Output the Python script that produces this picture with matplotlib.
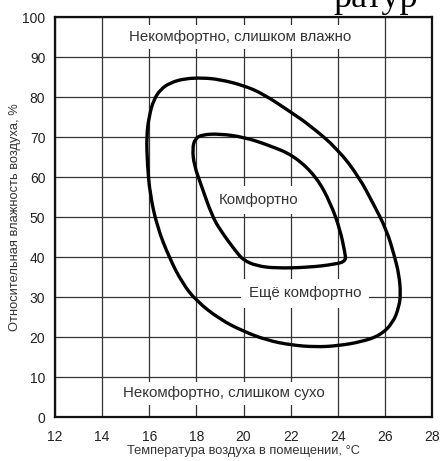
import matplotlib
matplotlib.use("Agg")
import matplotlib.pyplot as plt
from matplotlib.path import Path
from matplotlib.patches import PathPatch

plt.rcParams['font.family'] = ['Liberation Sans', 'DejaVu Sans']

# comfort zone outlines (temperature, humidity)
outer_t = [18.25, 18.98, 20.0, 20.83, 22.0, 22.8, 24.0, 24.9, 25.5, 26.07, 26.4, 26.6,
           26.67, 26.6, 26.35, 25.8, 25.0, 24.0, 23.05, 22.0, 21.0, 20.0, 19.0, 18.0,
           17.4, 16.85, 16.33, 16.03, 15.92, 15.88, 16.0, 16.18, 16.47, 16.9, 17.5, 18.25]
outer_h = [84.8, 84.4, 82.9, 80.8, 76.25, 73.0, 67.0, 60.0, 53.4, 46.8, 40.4, 35.6,
           30.8, 27.6, 23.6, 20.4, 18.8, 17.8, 17.5, 18.0, 19.2, 21.4, 24.4, 29.0,
           33.5, 39.8, 47.6, 55.8, 62.9, 70.4, 75.4, 79.2, 81.9, 83.6, 84.6, 84.8]

inner_t = [17.83, 17.94, 18.25, 18.98, 20.0, 21.1, 22.15, 23.1, 23.7, 24.1, 24.3, 24.35,
           23.9, 22.75, 21.35, 20.55, 20.0, 19.7, 19.0, 18.65, 18.2, 17.9, 17.83]
inner_h = [67.1, 69.6, 70.6, 70.8, 70.0, 67.9, 65.3, 60.0, 53.4, 46.8, 41.2, 39.0,
           38.2, 37.4, 37.2, 37.8, 39.2, 41.2, 46.8, 50.5, 58.0, 63.0, 67.1]

x_ticks = list(range(12, 29, 2))
y_ticks = list(range(0, 101, 10))

zone_labels = ['Некомфортно, слишком влажно', 'Комфортно', 'Ещё комфортно',
               'Некомфортно, слишком сухо']
label_t = [19.85, 20.65, 22.6, 19.15]
label_h = [95.0, 54.25, 31.0, 6.0]


def closed_curve(t, h):
    # read points used as control points of a closed quadratic bezier path
    pts = list(zip(t, h))[:-1]
    n = len(pts)
    mid = lambda a, b: ((a[0] + b[0]) / 2, (a[1] + b[1]) / 2)
    verts = [mid(pts[-1], pts[0])]
    codes = [Path.MOVETO]
    for i in range(n):
        verts += [pts[i], mid(pts[i], pts[(i + 1) % n])]
        codes += [Path.CURVE3, Path.CURVE3]
    return Path(verts, codes)


fig = plt.figure(figsize=(4.44, 4.61), dpi=100)
ax = fig.add_axes([0.124, 0.0954, 0.849, 0.8677])

ax.set_xlim(12, 28)
ax.set_ylim(0, 100)
ax.set_xticks(x_ticks)
ax.set_yticks(y_ticks)
ax.grid(True, color='#333333', linewidth=0.9)
ax.set_axisbelow(True)
ax.tick_params(length=0, labelsize=10, colors='#222222')
ax.tick_params(axis='x', pad=9)
ax.tick_params(axis='y', pad=7)
for s in ax.spines.values():
    s.set_linewidth(1.6)
    s.set_color('#111111')

for t, h in [(outer_t, outer_h), (inner_t, inner_h)]:
    ax.add_patch(PathPatch(closed_curve(t, h), facecolor='none', edgecolor='black',
                           linewidth=2.4, joinstyle='round', zorder=4))

pads = [0.35, 0.45, 0.5, 0.3]
for txt, t, h, p in zip(zone_labels, label_t, label_h, pads):
    ax.text(t, h, txt, ha='center', va='center', fontsize=10.8, color='#333333', zorder=3,
            bbox=dict(boxstyle='square,pad=%s' % p, facecolor='white', edgecolor='none'))

ax.set_xlabel('Температура воздуха в помещении, °C', fontsize=9.3, color='#333333', labelpad=1)
ax.set_ylabel('Относительная влажность воздуха, %', fontsize=9.3, color='#333333', labelpad=1)

# fragment of the page heading cut off at the top edge
fig.text(333 / 444, 1 - 7 / 461, 'ратур', family=['Liberation Serif'], fontsize=26,
         ha='left', va='baseline')

fig.savefig('out.png', dpi=100)
